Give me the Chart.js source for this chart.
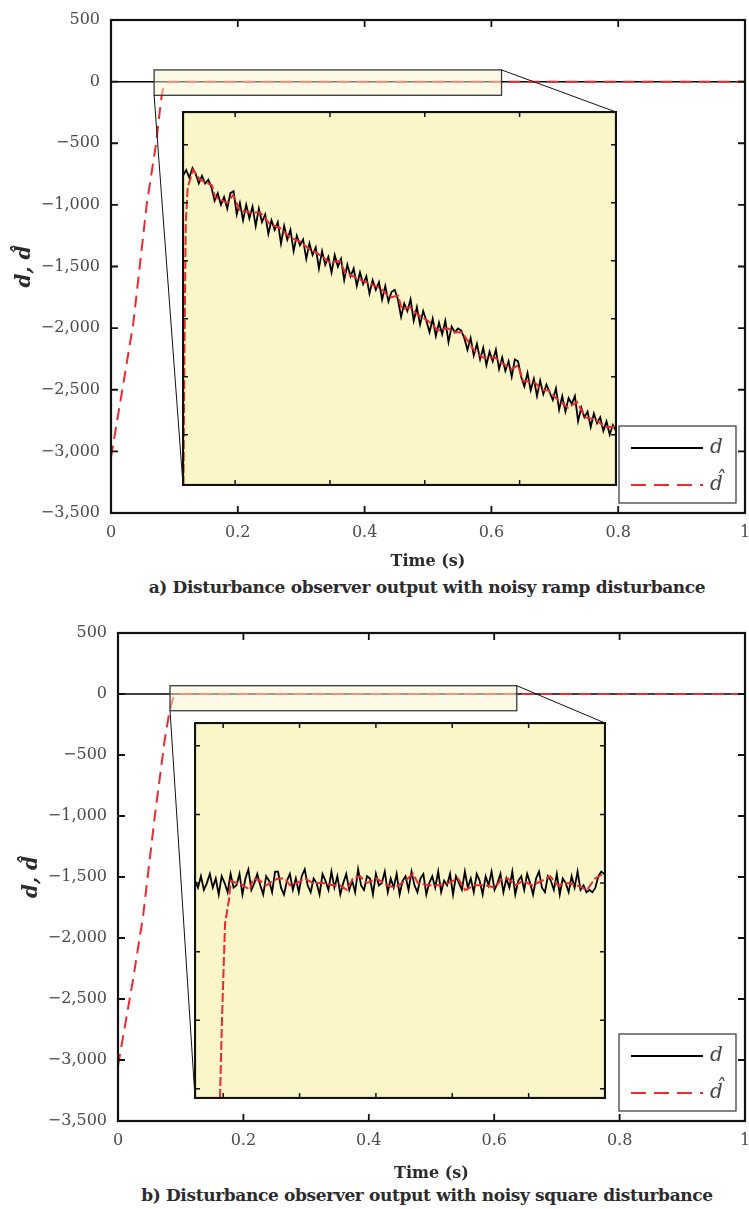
<!DOCTYPE html>
<html>
<head>
<meta charset="utf-8">
<title>Disturbance observer output</title>
<script src="https://cdn.jsdelivr.net/npm/chart.js@4.4.1/dist/chart.umd.min.js"></script>
<style>
  html, body { margin: 0; padding: 0; background: #fff; }
  #page { position: relative; width: 749px; height: 1209px; overflow: hidden; background: #fff; }
  .panel { position: absolute; left: 0; width: 749px; }
  .panel canvas { position: absolute; }
  .caption { position: absolute; left: 0; width: 854px; text-align: center; white-space: nowrap;
             font: bold 17px 'DejaVu Serif', serif; letter-spacing: -0.35px; color: #2b2b2b; line-height: 20px; }
</style>
</head>
<body>
<div id="page">
  <div class="panel" style="top:0;height:575px">
    <canvas id="mainA" width="749" height="575" style="left:0;top:0"></canvas>
    <canvas id="insetA" width="435" height="375" style="left:182px;top:111px"></canvas>
  </div>
  <div class="caption" style="top:577px">a) Disturbance observer output with noisy ramp disturbance</div>
  <div class="panel" style="top:613px;height:572px">
    <canvas id="mainB" width="749" height="572" style="left:0;top:0"></canvas>
    <canvas id="insetB" width="412" height="377" style="left:194px;top:109px"></canvas>
  </div>
  <div class="caption" style="top:1185px">b) Disturbance observer output with noisy square disturbance</div>
</div>
<script>
// shared ticks
const TIME_TICKS = [0, 0.2, 0.4, 0.6, 0.8, 1];
const D_TICKS = [500, 0, -500, -1000, -1500, -2000, -2500, -3000, -3500];
const INSET_D_TICKS = [60, 30, 0, -30, -60, -90];
const SAMPLE_DT = 0.004; // spacing of the noisy samples in the insets

// a) noisy ramp disturbance
const rampTime = [0, 1];
const rampD = [0, 0];
const rampHatTime = [0, 0.0185, 0.0352, 0.0563, 0.071, 0.0765, 0.080, 0.083, 0.087, 0.093, 1];
const rampHat = [-3050, -2480, -1960, -1000, -506, -260, -110, -40, -10, 0, 0];
const rampZoomTime = [0.068, 0.616];
const rampZoomD = [-111, 95];
const rampInsetRange = [-116, 77];
const rampInsetTimeTicks = [0.134, 0.254, 0.374, 0.494];
const rampInsetT0 = 0.068;
const rampInsetD = [
  44, 47, 43, 48, 45, 40, 44, 40, 42, 38,
  31, 35, 29, 33, 27, 35, 36, 24, 30, 21,
  29, 22, 28, 18, 27, 20, 24, 14, 21, 16,
  20, 9, 18, 11, 16, 5, 13, 8, 11, 1,
  9, 3, 7, -4, 5, -2, 2, -6, 3, -3,
  1, -10, -2, -8, -4, -13, -6, -12, -8, -17,
  -10, -15, -11, -20, -13, -21, -16, -15, -20, -29,
  -22, -26, -20, -31, -24, -33, -26, -31, -37, -30,
  -39, -32, -38, -31, -42, -34, -37, -35, -36, -40,
  -46, -40, -49, -43, -51, -45, -54, -47, -52, -46,
  -56, -50, -57, -52, -60, -51, -52, -60, -65, -58,
  -67, -61, -70, -62, -69, -64, -68, -72, -66, -77,
  -70, -78, -71, -74, -70, -83, -76, -81, -78, -86,
  -79, -84, -81, -88, -83, -90, -85, -88
];
const rampInsetHatTime = [0.0685, 0.0700, 0.0715, 0.0740, 0.0807, 0.0895, 0.1047, 0.1085, 0.1237, 0.1313,
  0.1401, 0.1528, 0.1654, 0.1781, 0.1908, 0.2034, 0.2161, 0.2249, 0.2414, 0.2540,
  0.2667, 0.2730, 0.2882, 0.3047, 0.3173, 0.3300, 0.3401, 0.3452, 0.3553, 0.3654,
  0.3781, 0.3907, 0.4034, 0.4122, 0.4211, 0.4376, 0.4477, 0.4629, 0.4717, 0.4844,
  0.4920, 0.4983, 0.5135, 0.5223, 0.5299, 0.5426, 0.5553, 0.5667, 0.5768, 0.5894,
  0.6021, 0.6122, 0.6160];
const rampInsetHat = [-116, -40, 20, 38, 47, 42, 39, 33, 30, 34,
  26, 25, 25, 19, 17, 12, 10, 7, 3, -1,
  0, -6, -9, -12, -14, -19, -18, -25, -24, -28,
  -31, -36, -35, -37, -37, -47, -50, -50, -53, -56,
  -54, -62, -63, -67, -67, -72, -76, -73, -81, -82,
  -86, -86, -84];

// b) noisy square disturbance
const squareTime = [0, 1];
const squareD = [0, 0];
const squareHatTime = [0, 0.0239, 0.0399, 0.0586, 0.0745, 0.0825, 0.0878, 0.093, 0.0985, 1];
const squareHat = [-3047, -2344, -1825, -1006, -377, -131, -35, -10, 0, 0];
const squareZoomTime = [0.083, 0.636];
const squareZoomD = [-137, 68];
const squareInsetRange = [-94, 70];
const squareInsetTimeTicks = [0.121, 0.224, 0.327, 0.430, 0.533];
const squareInsetT0 = 0.083;
const squareInsetD = [
  1, -2, 3, -3, 0, 4, -2, 2, -5, 3,
  0, -4, 4, -2, -1, 4, -5, 2, 6, -3,
  0, 4, -1, -5, 3, 1, -4, 5, 5, -2,
  -5, 1, 4, -3, 2, -4, 3, 6, -1, -4,
  2, 0, -5, 4, 1, -3, 5, -2, 3, -5,
  0, 4, -3, 1, -4, 6, -1, -3, 3, 2,
  -5, 4, -1, 0, 5, -4, 2, -2, 4, -5,
  1, 3, -3, 5, -1, -4, 2, 4, -5, 0,
  3, -2, 5, -4, 1, -1, 4, -5, 3, 0,
  -3, 5, -2, 2, -4, 4, 1, -5, 3, -1,
  5, -3, 0, 4, -4, 2, -2, 5, -5, 1,
  3, -3, 4, 0, -5, 2, 5, -2, -4, 3,
  1, -3, 4, -5, 2, 0, -4, 3, -2, 5,
  -3, -1, -4, -3, -4, -2, 3, 5, 4
];
const squareInsetHatTime = [0.1167, 0.1194, 0.1235, 0.1289, 0.1312, 0.1393, 0.1478, 0.1572, 0.1612, 0.1707,
  0.1797, 0.1882, 0.1950, 0.2044, 0.2112, 0.2202, 0.2314, 0.2422, 0.2557, 0.2692,
  0.2786, 0.2877, 0.2961, 0.3056, 0.3146, 0.3281, 0.3416, 0.3528, 0.3663, 0.3771,
  0.3838, 0.3973, 0.4108, 0.4243, 0.4378, 0.4472, 0.4607, 0.4742, 0.4877, 0.4971,
  0.5052, 0.5147, 0.5255, 0.5376, 0.5511, 0.5619, 0.5727, 0.5862, 0.5983, 0.6118,
  0.6226, 0.6334];
const squareInsetHat = [-94, -60, -18, -7, 1, 0, -1, -3, 2, 1,
  -1, 1, 2, 2, -1, 0, 2, 0, 0, -1,
  -1, -3, 2, 3, 0, 2, -1, -2, 1, 4,
  0, -1, -1, 0, 2, -3, -1, -1, -2, 2,
  2, -1, 1, -1, 1, 3, -1, 0, -1, -3,
  2, 4];

Chart.defaults.font.family = "'DejaVu Serif', serif";
Chart.defaults.color = '#4a4a4a';

const RED = '#ee2a2f';
const HAT = 'd\u0302';
const toPoints = (xs, ys) => xs.map((x, i) => ({ x: x, y: ys[i] }));
const sampled = (t0, ys) => ys.map((y, i) => ({ x: t0 + i * SAMPLE_DT, y: y }));
const fmtD = v => (v < 0 ? '\u2212' : '') + Math.abs(v).toLocaleString('en-US');
const setTicks = list => scale => { scale.ticks = list.map(value => ({ value })); };

function drawFrame(chart, xTicks, yTicks, len, frameWidth, tickWidth) {
  const ctx = chart.ctx;
  const { left, right, top, bottom } = chart.chartArea;
  const xs = chart.scales.x, ys = chart.scales.y;
  ctx.save();
  ctx.strokeStyle = '#111';
  ctx.lineWidth = tickWidth;
  ctx.beginPath();
  xTicks.forEach(v => {
    const px = xs.getPixelForValue(v);
    ctx.moveTo(px, bottom); ctx.lineTo(px, bottom - len);
    ctx.moveTo(px, top); ctx.lineTo(px, top + len);
  });
  yTicks.forEach(v => {
    const py = ys.getPixelForValue(v);
    ctx.moveTo(left, py); ctx.lineTo(left + len, py);
    ctx.moveTo(right, py); ctx.lineTo(right - len, py);
  });
  ctx.stroke();
  ctx.lineWidth = frameWidth;
  ctx.strokeRect(left, top, right - left, bottom - top);
  ctx.restore();
}

function makeInset(id, cfg) {
  const insetPlugin = {
    id: 'insetBox',
    beforeDatasetsDraw(chart) {
      const { left, right, top, bottom } = chart.chartArea;
      chart.ctx.save();
      chart.ctx.fillStyle = '#faf6c8';
      chart.ctx.fillRect(left, top, right - left, bottom - top);
      chart.ctx.restore();
    },
    afterDraw(chart) {
      drawFrame(chart, cfg.timeTicks, INSET_D_TICKS, 5, 2.2, 1.5);
    }
  };
  return new Chart(document.getElementById(id), {
    type: 'line',
    data: {
      datasets: [
        { label: HAT, data: toPoints(cfg.hatTime, cfg.hat), borderColor: RED, borderWidth: 2, borderDash: [9, 3] },
        { label: 'd', data: sampled(cfg.t0, cfg.noisy), borderColor: '#000', borderWidth: 1.8 }
      ]
    },
    options: {
      responsive: false, animation: false, devicePixelRatio: 1,
      layout: { padding: 1 },
      elements: { point: { radius: 0 }, line: { tension: 0, fill: false } },
      plugins: { legend: { display: false }, tooltip: { enabled: false } },
      scales: {
        x: { type: 'linear', display: false, min: cfg.zoomTime[0], max: cfg.zoomTime[1] },
        y: { type: 'linear', display: false, min: cfg.range[0], max: cfg.range[1] }
      }
    },
    plugins: [insetPlugin]
  });
}

function makeMain(id, cfg, inset) {
  const marks = {
    id: 'zoomMarks',
    afterDatasetsDraw(chart) {
      const ctx = chart.ctx;
      const xs = chart.scales.x, ys = chart.scales.y;
      const x0 = xs.getPixelForValue(cfg.zoomTime[0]), x1 = xs.getPixelForValue(cfg.zoomTime[1]);
      const y0 = ys.getPixelForValue(cfg.zoomD[1]), y1 = ys.getPixelForValue(cfg.zoomD[0]);
      const ox = inset.canvas.offsetLeft, oy = inset.canvas.offsetTop;
      const ia = inset.chartArea;
      ctx.save();
      ctx.fillStyle = 'rgba(250,245,205,0.5)';
      ctx.fillRect(x0, y0, x1 - x0, y1 - y0);
      ctx.strokeStyle = '#3a3a3a';
      ctx.lineWidth = 1.3;
      ctx.strokeRect(x0, y0, x1 - x0, y1 - y0);
      ctx.strokeStyle = '#111';
      ctx.lineWidth = 1;
      ctx.beginPath();
      ctx.moveTo(x0, y1); ctx.lineTo(ox + ia.left, oy + ia.bottom);
      ctx.moveTo(x1, y0); ctx.lineTo(ox + ia.right, oy + ia.top);
      ctx.stroke();
      ctx.restore();
    },
    afterDraw(chart) {
      drawFrame(chart, TIME_TICKS, D_TICKS, 7, 2.2, 1.8);
      // legend box, bottom right of the plot
      const ctx = chart.ctx;
      const { right, bottom } = chart.chartArea;
      const w = 117, h = 77;
      const lx = right - 9 - w, ly = bottom - 10 - h;
      ctx.save();
      ctx.fillStyle = '#fff';
      ctx.fillRect(lx, ly, w, h);
      ctx.strokeStyle = '#333';
      ctx.lineWidth = 1.2;
      ctx.strokeRect(lx, ly, w, h);
      const rows = [chart.data.datasets[1], chart.data.datasets[0]];
      rows.forEach((ds, i) => {
        const y = ly + 22 + i * 37;
        ctx.strokeStyle = ds.borderColor;
        ctx.lineWidth = 2;
        ctx.setLineDash(ds.borderDash ? [15, 8] : []);
        ctx.beginPath();
        ctx.moveTo(lx + 12, y); ctx.lineTo(lx + 84, y);
        ctx.stroke();
        ctx.setLineDash([]);
        ctx.fillStyle = '#444';
        ctx.font = "italic 20px 'DejaVu Serif', serif";
        ctx.textBaseline = 'middle';
        ctx.fillText(ds.label, lx + 91, y);
      });
      ctx.restore();
    }
  };
  return new Chart(document.getElementById(id), {
    type: 'line',
    data: {
      datasets: [
        { label: HAT, data: toPoints(cfg.hatTime, cfg.hat), borderColor: RED, borderWidth: 2, borderDash: [12, 7] },
        { label: 'd', data: toPoints(cfg.time, cfg.d), borderColor: '#000', borderWidth: 1.5 }
      ]
    },
    options: {
      responsive: false, animation: false, devicePixelRatio: 1,
      layout: { padding: { top: 20, right: 4, left: 0, bottom: 0 } },
      elements: { point: { radius: 0 }, line: { tension: 0, fill: false } },
      plugins: { legend: { display: false }, tooltip: { enabled: false } },
      scales: {
        x: {
          type: 'linear', min: 0, max: 1,
          afterBuildTicks: setTicks(TIME_TICKS),
          afterFit: s => { s.height = cfg.xAxisH; s.paddingLeft = 0; s.paddingRight = 0; },
          grid: { display: false, drawTicks: false },
          border: { display: false },
          ticks: { padding: 10, maxRotation: 0, autoSkip: false, font: { size: 16 }, callback: v => String(v) },
          title: { display: true, text: 'Time (s)', color: '#2b2b2b',
                   font: { size: 16, weight: 'bold' }, padding: { top: 0, bottom: cfg.xTitlePad } }
        },
        y: {
          type: 'linear', min: -3500, max: 500,
          afterBuildTicks: setTicks(D_TICKS),
          afterFit: s => { s.width = cfg.yAxisW; s.paddingTop = 0; s.paddingBottom = 0; },
          grid: { display: false, drawTicks: false },
          border: { display: false },
          ticks: { padding: 11, autoSkip: false, font: { size: 16 }, callback: v => fmtD(v) },
          title: { display: true, text: 'd, ' + HAT, color: '#2b2b2b',
                   font: { size: 20, weight: 'bold', style: 'italic' }, padding: { top: cfg.yTitlePad, bottom: 0 } }
        }
      }
    },
    plugins: [marks]
  });
}

const insetA = makeInset('insetA', {
  hatTime: rampInsetHatTime, hat: rampInsetHat, t0: rampInsetT0, noisy: rampInsetD,
  zoomTime: rampZoomTime, range: rampInsetRange, timeTicks: rampInsetTimeTicks
});
makeMain('mainA', {
  time: rampTime, d: rampD, hatTime: rampHatTime, hat: rampHat,
  zoomTime: rampZoomTime, zoomD: rampZoomD, yAxisW: 111, xAxisH: 62, yTitlePad: 13, xTitlePad: 4
}, insetA);

const insetB = makeInset('insetB', {
  hatTime: squareInsetHatTime, hat: squareInsetHat, t0: squareInsetT0, noisy: squareInsetD,
  zoomTime: squareZoomTime, range: squareInsetRange, timeTicks: squareInsetTimeTicks
});
makeMain('mainB', {
  time: squareTime, d: squareD, hatTime: squareHatTime, hat: squareHat,
  zoomTime: squareZoomTime, zoomD: squareZoomD, yAxisW: 118, xAxisH: 64, yTitlePad: 20, xTitlePad: 2
}, insetB);
</script>
</body>
</html>
